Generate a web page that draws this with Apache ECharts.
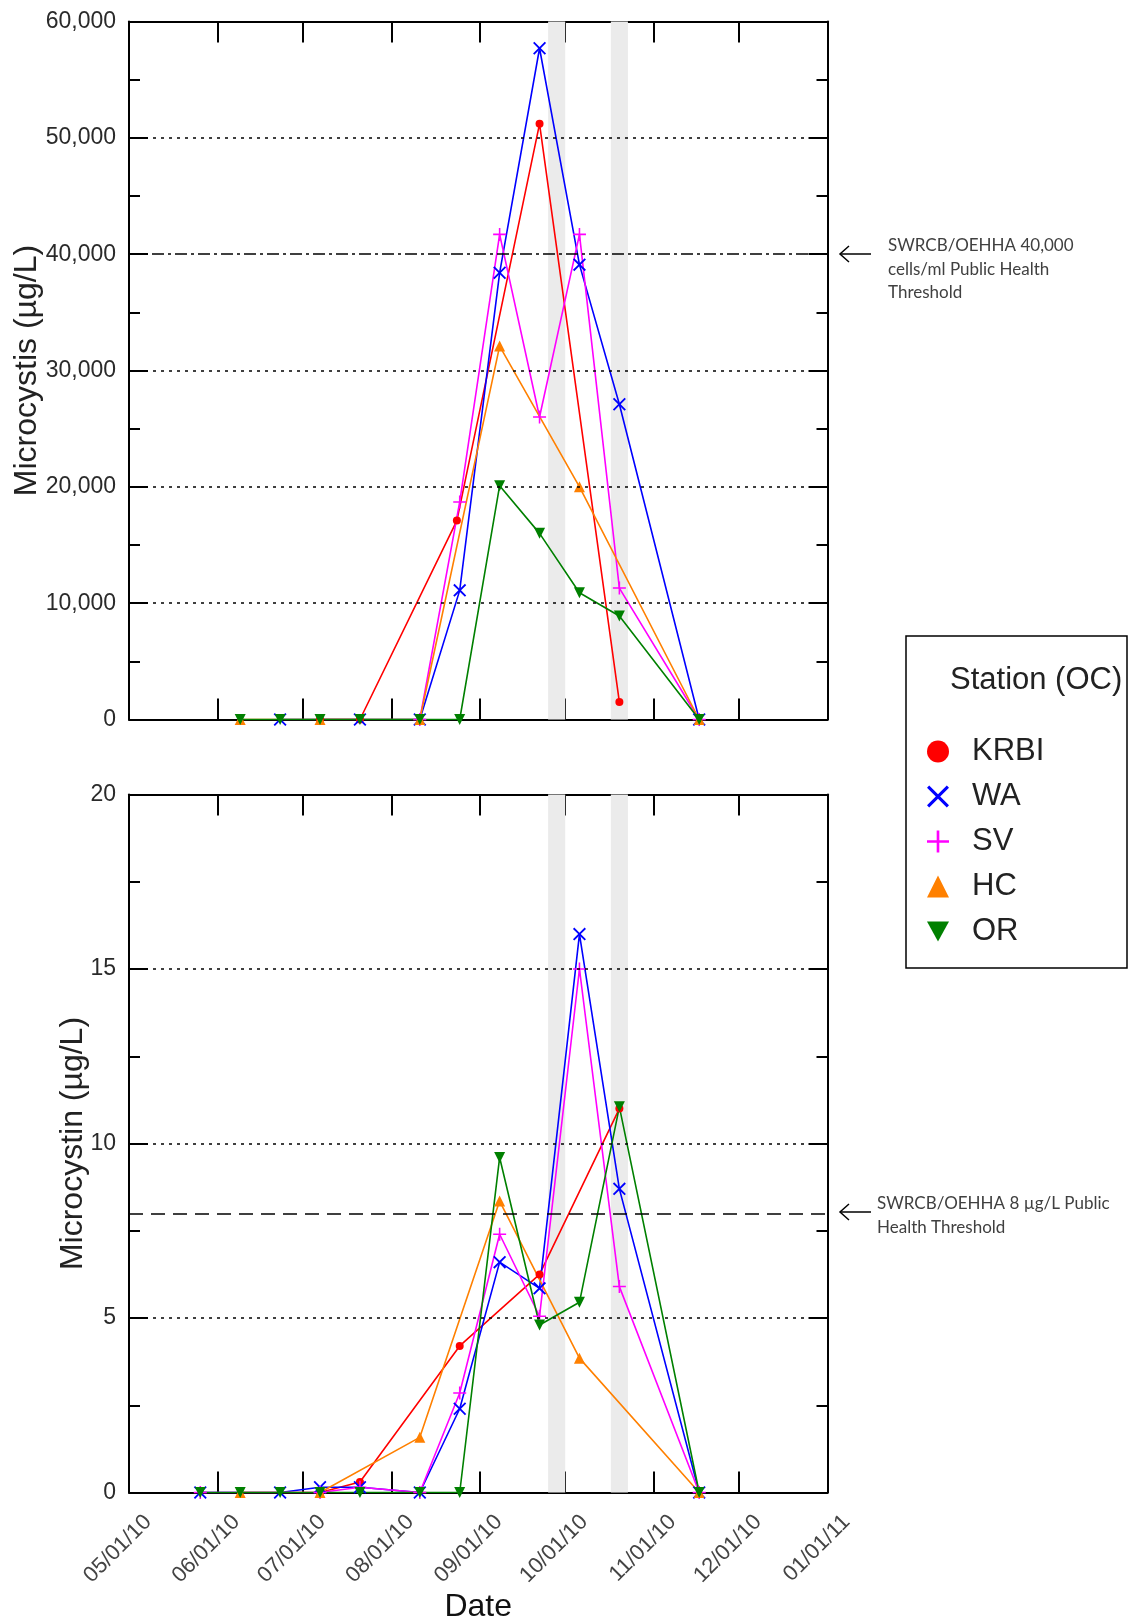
<!DOCTYPE html>
<html>
<head>
<meta charset="utf-8">
<script src="https://cdn.jsdelivr.net/npm/echarts@6/dist/echarts.min.js"></script>
<style>
html, body { margin: 0; padding: 0; background: #fff; }
#myChart { width: 1132px; height: 1624px; }
</style>
</head>
<body>
<div id="myChart"></div>
<script>
// stations and colours
const stations = ['KRBI', 'WA', 'SV', 'HC', 'OR'];
const colors = ['#ff0000', '#0000ff', '#ff00ff', '#ff8000', '#008000'];

// Microcystis (top panel)
const krbiCellDates = ['2010-07-07', '2010-07-21', '2010-08-24', '2010-09-22', '2010-10-20'];
const krbiCells = [0, 0, 17100, 51200, 1500];
const waCellDates = ['2010-06-23', '2010-07-21', '2010-08-11', '2010-08-25', '2010-09-08', '2010-09-22', '2010-10-06', '2010-10-20', '2010-11-17'];
const waCells = [0, 0, 0, 11100, 38400, 57700, 39100, 27100, 0];
const svCellDates = ['2010-08-11', '2010-08-25', '2010-09-08', '2010-09-22', '2010-10-06', '2010-10-20', '2010-11-17'];
const svCells = [0, 18700, 41700, 26000, 41700, 11300, 0];
const hcCellDates = ['2010-06-09', '2010-07-07', '2010-08-11', '2010-09-08', '2010-10-06', '2010-11-17'];
const hcCells = [0, 0, 0, 32100, 20000, 0];
const orCellDates = ['2010-06-09', '2010-06-23', '2010-07-07', '2010-07-21', '2010-08-11', '2010-08-25', '2010-09-08', '2010-09-22', '2010-10-06', '2010-10-20', '2010-11-17'];
const orCells = [0, 0, 0, 0, 0, 0, 20100, 16000, 10900, 8900, 0];

// Microcystin (bottom panel)
const krbiToxDates = ['2010-07-07', '2010-07-21', '2010-08-25', '2010-09-22', '2010-10-20'];
const krbiTox = [0, 0.3, 4.2, 6.25, 11.0];
const waToxDates = ['2010-05-26', '2010-06-23', '2010-07-07', '2010-07-21', '2010-08-11', '2010-08-25', '2010-09-08', '2010-09-22', '2010-10-06', '2010-10-20', '2010-11-17'];
const waTox = [0, 0, 0.15, 0.15, 0, 2.4, 6.6, 5.85, 16.0, 8.7, 0];
const svToxDates = ['2010-05-26', '2010-07-07', '2010-07-21', '2010-08-11', '2010-08-25', '2010-09-08', '2010-09-22', '2010-10-06', '2010-10-20', '2010-11-17'];
const svTox = [0, 0, 0.15, 0, 2.85, 7.4, 5.05, 15.0, 5.9, 0];
const hcToxDates = ['2010-06-09', '2010-07-07', '2010-08-11', '2010-09-08', '2010-10-06', '2010-11-17'];
const hcTox = [0, 0, 1.58, 8.35, 3.85, 0];
const orToxDates = ['2010-05-26', '2010-06-09', '2010-06-23', '2010-07-07', '2010-07-21', '2010-08-11', '2010-08-25', '2010-09-08', '2010-09-22', '2010-10-06', '2010-10-20', '2010-11-17'];
const orTox = [0, 0, 0, 0, 0, 0, 0, 9.6, 4.8, 5.45, 11.05, 0];

// shaded periods, gridlines and thresholds
const bands = [['2010-09-25', '2010-10-01'], ['2010-10-17', '2010-10-23']];
const cellGrid = [10000, 20000, 30000, 50000];
const toxGrid = [5, 10, 15];
const cellThreshold = 40000;
const toxThreshold = 8;

const xPath = 'path://M0,1L1,0L5,4L9,0L10,1L6,5L10,9L9,10L5,6L1,10L0,9L4,5Z';
const plusPath = 'path://M4.4,0L5.6,0L5.6,4.4L10,4.4L10,5.6L5.6,5.6L5.6,10L4.4,10L4.4,5.6L0,5.6L0,4.4L4.4,4.4Z';
const downTri = 'path://M0,0L10,0L5,9Z';
const symbols = ['circle', xPath, plusPath, 'triangle', downTri];
const symbolSizes = [8, 13, 13, 11, 11];

var chartDom = document.getElementById('myChart');
var myChart = echarts.init(chartDom);

function pad(n) { return (n < 10 ? '0' : '') + n; }
function dateLabel(val) {
    var d = new Date(val);
    return pad(d.getMonth() + 1) + '/' + pad(d.getDate()) + '/' + pad(d.getFullYear() % 100);
}

function station(i, g, dates, vals) {
    return {
        name: stations[i],
        type: 'line',
        xAxisIndex: g * 2,
        yAxisIndex: g * 2,
        data: dates.map((d, k) => [d, vals[k]]),
        symbol: symbols[i],
        symbolSize: symbolSizes[i],
        showAllSymbol: true,
        itemStyle: { color: colors[i] },
        lineStyle: { color: colors[i], width: 1.6 },
        z: 3,
        animation: false
    };
}

function helper(g, gridVals, thr, thrType) {
    return {
        name: 'helper' + g,
        type: 'line',
        xAxisIndex: g * 2,
        yAxisIndex: g * 2,
        data: [],
        z: 1,
        silent: true,
        animation: false,
        markArea: {
            silent: true,
            itemStyle: { color: '#ebebeb' },
            data: bands.map(b => [{ xAxis: b[0] }, { xAxis: b[1] }])
        },
        markLine: {
            silent: true,
            symbol: ['none', 'none'],
            label: { show: false },
            lineStyle: { color: '#000', width: 1.5, type: [3, 5] },
            data: gridVals.map(v => ({ yAxis: v })).concat([
                { yAxis: thr, lineStyle: { color: '#000', width: 1.5, type: thrType } }
            ])
        }
    };
}

const xMin = '2010-05-01';
const xMax = '2011-01-01';
const day = 86400000;

function xAxisFor(g, pos, labels) {
    return {
        type: 'time',
        gridIndex: g,
        position: pos,
        min: xMin,
        max: xMax,
        minInterval: 28 * day,
        maxInterval: 31 * day,
        axisLine: { show: true, onZero: false, lineStyle: { color: '#000', width: 2 } },
        axisTick: { show: true, inside: true, length: 21, lineStyle: { color: '#000', width: 2 } },
        splitLine: { show: false },
        axisLabel: labels ? {
            show: true,
            rotate: 45,
            margin: 7,
            verticalAlign: 'top',
            padding: [16, 0, 0, 0],
            fontSize: 22,
            fontFamily: 'Liberation Sans',
            color: '#444',
            showMinLabel: true,
            showMaxLabel: true,
            hideOverlap: false,
            formatter: dateLabel
        } : { show: false },
        name: labels ? 'Date' : '',
        nameLocation: 'middle',
        nameGap: 99,
        nameTextStyle: { fontSize: 32, fontFamily: 'Liberation Sans', color: '#111' }
    };
}

function yAxisFor(g, pos, max, interval, name, gap, fmt) {
    var left = pos === 'left';
    return {
        type: 'value',
        gridIndex: g,
        position: pos,
        min: 0,
        max: max,
        interval: interval,
        axisLine: { show: true, lineStyle: { color: '#000', width: 2 } },
        axisTick: { show: true, inside: true, length: 19, lineStyle: { color: '#000', width: 2 } },
        minorTick: { show: true, splitNumber: 2, length: 11, lineStyle: { color: '#000', width: 2 } },
        splitLine: { show: false },
        axisLabel: left ? {
            show: true,
            margin: 13,
            fontSize: 23,
            fontFamily: 'Liberation Sans',
            color: '#2a2a2a',
            formatter: fmt
        } : { show: false },
        name: left ? name : '',
        nameLocation: 'middle',
        nameGap: gap,
        nameMoveOverlap: false,
        nameTextStyle: { fontSize: 32, fontFamily: 'Liberation Sans', color: '#222' }
    };
}

const legendIcons = ['circle', xPath, plusPath, 'triangle', downTri];

var option = {
    backgroundColor: '#fff',
    animation: false,
    grid: [
        { left: 129, top: 21.5, width: 698.5, height: 698, outerBoundsMode: 'none' },
        { left: 129, top: 794.5, width: 698.5, height: 698, outerBoundsMode: 'none' }
    ],
    xAxis: [
        xAxisFor(0, 'bottom', false),
        xAxisFor(0, 'top', false),
        xAxisFor(1, 'bottom', true),
        xAxisFor(1, 'top', false)
    ],
    yAxis: [
        yAxisFor(0, 'left', 60000, 10000, 'Microcystis (\u00b5g/L)', 86, v => v.toLocaleString('en-US')),
        yAxisFor(0, 'right', 60000, 10000, '', 0, null),
        yAxisFor(1, 'left', 20, 5, 'Microcystin (\u00b5g/L)', 40, v => String(v)),
        yAxisFor(1, 'right', 20, 5, '', 0, null)
    ],
    legend: {
        orient: 'vertical',
        left: 922,
        top: 731,
        itemWidth: 22,
        itemHeight: 22,
        itemGap: 14,
        selectedMode: false,
        textStyle: { fontSize: 31, lineHeight: 30, fontFamily: 'Liberation Sans', color: '#222', padding: [0, 0, 0, 18] },
        data: stations.map((s, i) => ({ name: s, icon: legendIcons[i], itemStyle: { color: colors[i] } }))
    },
    graphic: [
        { type: 'rect', shape: { x: 906, y: 636, width: 221, height: 332 }, style: { fill: 'none', stroke: '#000', lineWidth: 1.5 } },
        { type: 'text', x: 950, y: 680, style: { text: 'Station (OC)', font: '31px "Liberation Sans"', fill: '#222', verticalAlign: 'middle' } },
        { type: 'line', shape: { x1: 840, y1: 254, x2: 871, y2: 254 }, style: { stroke: '#000', lineWidth: 1.5 } },
        { type: 'polyline', shape: { points: [[849, 246], [840, 254], [849, 262]] }, style: { stroke: '#000', lineWidth: 1.5, fill: null } },
        { type: 'text', x: 888, y: 234, style: { text: 'SWRCB/OEHHA 40,000\ncells/ml Public Health\nThreshold', font: '17px Lato', lineHeight: 23.5, fill: '#404040' } },
        { type: 'line', shape: { x1: 840, y1: 1212, x2: 871, y2: 1212 }, style: { stroke: '#000', lineWidth: 1.5 } },
        { type: 'polyline', shape: { points: [[849, 1204], [840, 1212], [849, 1220]] }, style: { stroke: '#000', lineWidth: 1.5, fill: null } },
        { type: 'text', x: 877, y: 1192, style: { text: 'SWRCB/OEHHA 8 \u00b5g/L Public\nHealth Threshold', font: '17px Lato', lineHeight: 23.5, fill: '#404040' } }
    ],
    series: [
        helper(0, cellGrid, cellThreshold, [12, 4, 3, 4]),
        station(0, 0, krbiCellDates, krbiCells),
        station(1, 0, waCellDates, waCells),
        station(2, 0, svCellDates, svCells),
        station(3, 0, hcCellDates, hcCells),
        station(4, 0, orCellDates, orCells),
        helper(1, toxGrid, toxThreshold, [14, 8]),
        station(0, 1, krbiToxDates, krbiTox),
        station(1, 1, waToxDates, waTox),
        station(2, 1, svToxDates, svTox),
        station(3, 1, hcToxDates, hcTox),
        station(4, 1, orToxDates, orTox)
    ]
};

option && myChart.setOption(option);
</script>
</body>
</html>
